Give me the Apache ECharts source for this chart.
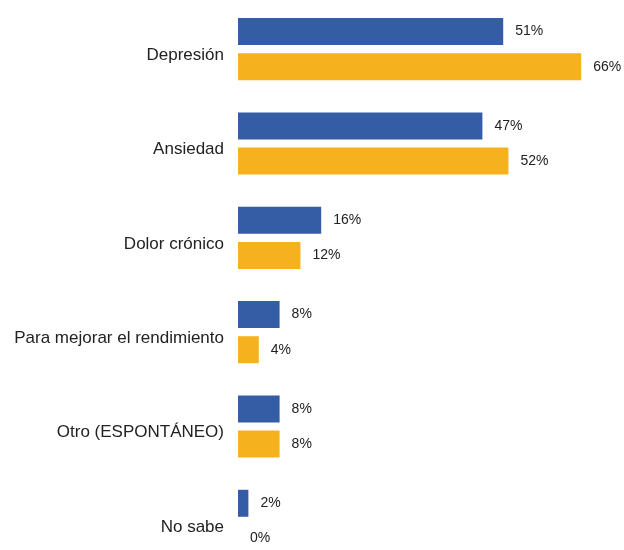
<!DOCTYPE html>
<html>
<head>
<meta charset="utf-8">
<script src="https://cdn.jsdelivr.net/npm/echarts@6/dist/echarts.min.js"></script>
<style>
html,body{margin:0;padding:0;background:#ffffff;overflow:hidden;}
#chart{width:624px;height:580px;}
</style>
</head>
<body>
<div id="chart"></div>
<script>
const categories = ["Depresión", "Ansiedad", "Dolor crónico", "Para mejorar el rendimiento", "Otro (ESPONTÁNEO)", "No sabe"];
const seriesBlue = [51, 47, 16, 8, 8, 2];
const seriesOrange = [66, 52, 12, 4, 8, 0];

const chart = echarts.init(document.getElementById('chart'), null, {renderer: 'canvas'});
const labelCfg = {
  show: true,
  position: 'right',
  distance: 12,
  formatter: p => p.value + '%',
  fontFamily: 'Liberation Sans, Arial, sans-serif',
  fontSize: 14,
  color: '#222222'
};
chart.setOption({
  animation: false,
  backgroundColor: '#ffffff',
  grid: {left: 238, top: 2, width: 364, height: 566},
  xAxis: {
    type: 'value', min: 0, max: 70, show: false
  },
  yAxis: {
    type: 'category',
    data: categories,
    inverse: true,
    axisLine: {show: false},
    axisTick: {show: false},
    splitLine: {show: false},
    axisLabel: {
      margin: 14,
      fontFamily: 'Liberation Sans, Arial, sans-serif',
      fontSize: 17,
      color: '#222222',
      verticalAlign: 'top',
      lineHeight: 12
    }
  },
  series: [
    {
      type: 'bar', data: seriesBlue, barWidth: 27, barGap: '30%',
      itemStyle: {color: '#355DA6'}, label: labelCfg
    },
    {
      type: 'bar', data: seriesOrange, barWidth: 27,
      itemStyle: {color: '#F6B11F'}, label: labelCfg
    }
  ]
});
</script>
</body>
</html>
